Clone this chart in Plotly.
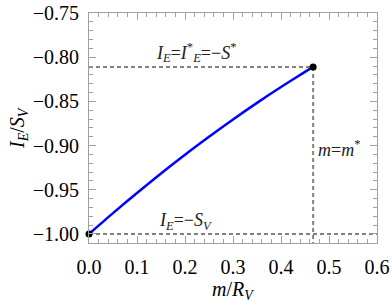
import plotly.graph_objects as go

m_vals = [0.0, 0.05, 0.10, 0.15, 0.20, 0.25, 0.30, 0.35, 0.40, 0.45, 0.467]
ie_vals = [-1.0000, -0.9764, -0.9536, -0.9316, -0.9104, -0.8901, -0.8705, -0.8517, -0.8338, -0.8166, -0.8110]

m_star = 0.467
ie_star = -0.811
ie_base = -1.0
x_range = [0.0, 0.6]
y_range = [-1.0102, -0.75]
x_ticks = [0.0, 0.1, 0.2, 0.3, 0.4, 0.5, 0.6]
x_tick_labels = ["0.0", "0.1", "0.2", "0.3", "0.4", "0.5", "0.6"]
y_ticks = [-1.00, -0.95, -0.90, -0.85, -0.80, -0.75]
y_tick_labels = ["\u22121.00", "\u22120.95", "\u22120.90", "\u22120.85", "\u22120.80", "\u22120.75"]

serif = "Liberation Serif"
dash_col = "#808080"

fig = go.Figure()
# dashed guides
fig.add_trace(go.Scatter(x=[x_range[0], m_star], y=[ie_star, ie_star], mode="lines",
                         line=dict(color=dash_col, width=2, dash="4px,3px"), hoverinfo="skip"))
fig.add_trace(go.Scatter(x=[x_range[0], x_range[1]], y=[ie_base, ie_base], mode="lines",
                         line=dict(color=dash_col, width=2, dash="4px,3px"), hoverinfo="skip"))
fig.add_trace(go.Scatter(x=[m_star, m_star], y=[ie_star, y_range[0]], mode="lines",
                         line=dict(color=dash_col, width=2, dash="4px,3px"), hoverinfo="skip"))
# curve
fig.add_trace(go.Scatter(x=m_vals, y=ie_vals, mode="lines",
                         line=dict(color="#0000ff", width=2.5, shape="spline", smoothing=0.8), hoverinfo="skip"))
# endpoints
fig.add_trace(go.Scatter(x=[m_vals[0], m_vals[-1]], y=[ie_vals[0], ie_vals[-1]], mode="markers",
                         marker=dict(color="black", size=7), hoverinfo="skip", cliponaxis=False))

ann_font = dict(family=serif, size=18, color="#222")
fig.add_annotation(x=0.222, y=ie_star, xref="x", yref="y",
                   text="<i>I</i><sub><i>E</i></sub>=<i>I</i><sup>*</sup><sub><i>E</i></sub>=\u2212<i>S</i><sup>*</sup>",
                   showarrow=False, yanchor="bottom", yshift=0, font=ann_font)
fig.add_annotation(x=0.2, y=ie_base, xref="x", yref="y",
                   text="<i>I</i><sub><i>E</i></sub>=\u2212<i>S</i><sub><i>V</i></sub>",
                   showarrow=False, yanchor="bottom", yshift=-1, font=ann_font)
fig.add_annotation(x=m_star, y=-0.903, xref="x", yref="y",
                   text="<i>m</i>=<i>m</i><sup>*</sup>",
                   showarrow=False, xanchor="left", xshift=3, font=ann_font)

# axis titles (positions given in pixels, converted to paper coords)
W, H = 392, 305
ML, MR, MT, MB = 89, 15, 13, 62
pw = W - ML - MR
ph = H - MT - MB
title_font = dict(family=serif, size=20, color="black")
fig.add_annotation(x=0.5, y=(H - MB - 290) / ph, xref="paper", yref="paper",
                   text="<i>m</i>/<i>R</i><sub><i>V</i></sub>", showarrow=False, font=title_font,
                   yanchor="middle", xanchor="center")
fig.add_annotation(x=(18 - ML) / pw, y=0.5, xref="paper", yref="paper",
                   text="<i>I</i><sub><i>E</i></sub>/<i>S</i><sub><i>V</i></sub>", showarrow=False, font=title_font,
                   textangle=-90, xanchor="center", yanchor="middle")

axis_common = dict(
    showgrid=False, zeroline=False, showline=True, linecolor="#a0a0a0", linewidth=1,
    mirror="ticks", ticks="inside", ticklen=7, tickwidth=1, tickcolor="#a0a0a0",
    tickfont=dict(family=serif, size=20, color="black"), automargin=False,
)

fig.update_xaxes(range=x_range, tickvals=x_ticks, ticktext=x_tick_labels, ticklabelstandoff=6,
                 minor=dict(ticks="inside", ticklen=4, dtick=0.02, tickcolor="#a0a0a0", showgrid=False),
                 **axis_common)
fig.update_yaxes(range=y_range, tickvals=y_ticks, ticktext=y_tick_labels, ticklabelstandoff=5,
                 minor=dict(ticks="inside", ticklen=4, dtick=0.01, tick0=-1.0, tickcolor="#a0a0a0", showgrid=False),
                 **axis_common)

fig.update_layout(width=W, height=H, margin=dict(l=ML, r=MR, t=MT, b=MB),
                  plot_bgcolor="white", paper_bgcolor="white", showlegend=False,
                  font=dict(family=serif))

fig.write_html("out.html", config={"displayModeBar": False, "staticPlot": True},
               post_script="document.body.style.margin='0';document.body.style.overflow='hidden';")
